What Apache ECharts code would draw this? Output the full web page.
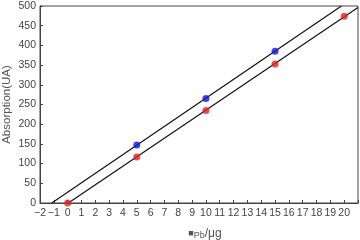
<!DOCTYPE html>
<html><head><meta charset="utf-8">
<script src="https://cdn.jsdelivr.net/npm/echarts@6/dist/echarts.min.js"></script>
<style>html,body{margin:0;padding:0;background:#fff}#c{width:360px;height:240px}</style>
</head><body><div id="c"></div>
<script>
var blueX = [5, 10, 15];
var blueY = [147, 265, 385];
var redX = [0, 5, 10, 15, 20];
var redY = [0, 117, 235, 353, 474];
var blueFitX = [-1.15, 19.8];
var blueFitY = [0, 500];
var redFitX = [0.05, 21];
var redFitY = [0, 496];
var xTicks = [-2,-1,0,1,2,3,4,5,6,7,8,9,10,11,12,13,14,15,16,17,18,19,20];
var yTicks = [0,50,100,150,200,250,300,350,400,450,500];

function pairs(xs, ys){ return xs.map(function(x,i){ return [x, ys[i]]; }); }

var chart = echarts.init(document.getElementById('c'));
var font = 'Liberation Sans, Arial, sans-serif';
chart.setOption({
  animation: false,
  grid: {left: 40, right: 2, top: 6, bottom: 37, containLabel: false, outerBoundsMode: 'none',
    show: true, borderColor: '#444', borderWidth: 1},
  xAxis: {
    type: 'value', min: -2, max: 21, interval: 1,
    axisLine: {show: true, onZero: false, lineStyle: {color: '#444'}},
    axisTick: {show: true, inside: true, length: 3, lineStyle: {color: '#444'}},
    splitLine: {show: false},
    axisLabel: {color: '#444', fontSize: 10.5, fontFamily: font, margin: 5, hideOverlap: false,
      formatter: function(v){ return xTicks.indexOf(v) >= 0 ? String(v).replace('-', '\u2212') : ''; }},
    name: '{sq|■}{sub|Pb}{main|/μg}', nameLocation: 'middle', nameGap: 24, nameMoveOverlap: false,
    nameTextStyle: {padding: [0, 0, 0, 12], rich: {
      sq: {fontSize: 9, color: '#555', fontFamily: font},
      sub: {fontSize: 9, color: '#555', fontFamily: font, padding: [4,0,0,0]},
      main: {fontSize: 12, color: '#555', fontFamily: font}
    }}
  },
  yAxis: {
    type: 'value', min: 0, max: 500, interval: 50,
    axisLine: {show: true, onZero: false, lineStyle: {color: '#444'}},
    axisTick: {show: true, inside: true, length: 3, lineStyle: {color: '#444'}},
    splitLine: {show: false},
    axisLabel: {color: '#444', fontSize: 10.5, fontFamily: font, margin: 4,
      formatter: function(v){ return yTicks.indexOf(v) >= 0 ? String(v) : ''; }},
    name: 'Absorption(UA)', nameLocation: 'middle', nameGap: 27, nameMoveOverlap: false,
    nameTextStyle: {color: '#555', fontSize: 11.5, fontFamily: font}
  },
  series: [
    {type: 'line', data: pairs(blueFitX, blueFitY), symbol: 'none', lineStyle: {color: '#111', width: 1.2}, z: 2},
    {type: 'line', data: pairs(redFitX, redFitY), symbol: 'none', lineStyle: {color: '#111', width: 1.2}, z: 2},
    {type: 'scatter', data: pairs(blueX, blueY), symbolSize: 7, itemStyle: {color: '#1515e0'}, z: 3},
    {type: 'scatter', data: pairs(redX, redY), symbolSize: 7, itemStyle: {color: '#e52020'}, z: 3}
  ]
});
</script></body></html>
